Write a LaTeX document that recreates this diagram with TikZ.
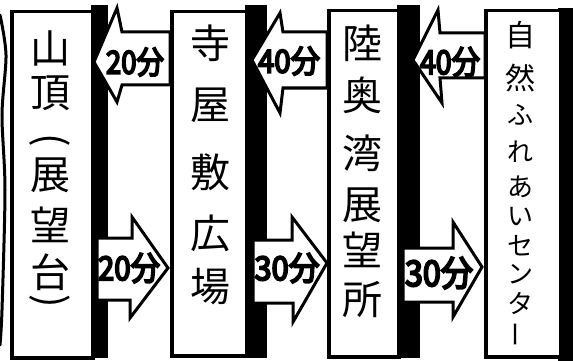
\documentclass[tikz,border=0pt]{standalone}
\usepackage{fontspec}
\usepackage{graphicx}
\newfontfamily\jp{Noto Sans CJK JP}
\newfontfamily\jpb[FakeBold=6]{Noto Sans CJK JP}
\begin{document}
\begin{tikzpicture}[x=1pt,y=-1pt,
  stationbox/.style={draw=black,fill=white,line width=3.5pt,anchor=north west,inner sep=0pt},
  blockarrow/.style={draw=black,fill=white,line width=3pt,line join=miter},
  bigchar/.style={font=\jp\fontsize{40}{40}\selectfont,inner sep=0pt},
  smallchar/.style={font=\jp\fontsize{30}{30}\selectfont,inner sep=0pt},
  kanachar/.style={font=\jp\fontsize{26}{26}\selectfont,inner sep=0pt},
  timelabel/.style={inner sep=0pt}]
\useasboundingbox (0,0) rectangle (573,361);
\fill[white] (0,0) rectangle (573,361);
% wavy edge at the far left
\draw[line width=3pt,line cap=round] plot[smooth] coordinates {(0,15) (6,55) (2,115) (5,190) (2,310) (0,345)};
% shadows
\fill[black] (91,5) rectangle (108,358);
\fill[black] (245,5) rectangle (267,358);
\fill[black] (397,5) rectangle (420,358);
\fill[black] (558,8) rectangle (573,361);
% station boxes
\node[stationbox,minimum width=81pt,minimum height=346pt] (b1) at (10,10) {};
\node[stationbox,minimum width=75pt,minimum height=344pt] (b2) at (170,10) {};
\node[stationbox,minimum width=70pt,minimum height=346pt] (b3) at (327,9) {};
\node[stationbox,minimum width=75pt,minimum height=346pt] (b4) at (484,9) {};
% box texts
\foreach \c/\yy [count=\i] in {山/48,頂/93,展/175,望/225,台/272}
  \node[bigchar] (ta\i) at (50,\yy) {\c};
\node[bigchar] (tap1) at (50,140) {\rotatebox{-90}{(}};
\node[bigchar] (tap2) at (50,301) {\rotatebox{-90}{)}};
\foreach \c/\yy [count=\i] in {寺/43,屋/105,敷/172,広/233,場/287}
  \node[bigchar] (tb\i) at (210,\yy) {\c};
\foreach \c/\yy [count=\i] in {陸/43,奥/95,湾/153,展/205,望/250,所/300}
  \node[bigchar] (tc\i) at (362,\yy) {\c};
\node[smallchar] (td1) at (520,35) {自};
\node[smallchar] (td2) at (520,78) {然};
\foreach \c/\yy [count=\i from 3] in {ふ/115,れ/152,あ/187,い/217,セ/246,ン/274,タ/303}
  \node[kanachar] (td\i) at (520,\yy) {\c};
\node[kanachar] (td10) at (520,334) {\rotatebox{90}{ー}};
% arrows pointing left (upper row)
\draw[blockarrow] (94,62) -- (117,8) -- (122,32) -- (170,32) -- (170,85) -- (122,85) -- (117,102) -- cycle;
\draw[blockarrow] (252,60) -- (280,13) -- (283,32) -- (327,32) -- (327,88) -- (283,88) -- (280,113) -- cycle;
\draw[blockarrow] (413,60) -- (438,10) -- (440,33) -- (485,33) -- (485,78) -- (440,78) -- (442,103) -- cycle;
% arrows pointing right (lower row)
\draw[blockarrow] (97,238) -- (132,238) -- (132,217) -- (168,268) -- (130,318) -- (130,300) -- (97,300) -- cycle;
\draw[blockarrow] (253,240) -- (292,240) -- (292,217) -- (327,263) -- (293,322) -- (293,303) -- (253,303) -- cycle;
\draw[blockarrow] (403,248) -- (453,248) -- (453,222) -- (482,267) -- (453,317) -- (453,302) -- (403,302) -- cycle;
% time labels
\node[timelabel] (l1) at (135,62) {\resizebox{58pt}{26pt}{\jpb 20分}};
\node[timelabel] (l2) at (289,61) {\resizebox{62pt}{26pt}{\jpb 40分}};
\node[timelabel] (l3) at (450,62) {\resizebox{60pt}{27pt}{\jpb 40分}};
\node[timelabel] (r1) at (129,268) {\resizebox{62pt}{27pt}{\jpb 20分}};
\node[timelabel] (r2) at (287,268) {\resizebox{65pt}{27pt}{\jpb 30分}};
\node[timelabel] (r3) at (439,273) {\resizebox{68pt}{29pt}{\jpb 30分}};
\end{tikzpicture}
\end{document}
